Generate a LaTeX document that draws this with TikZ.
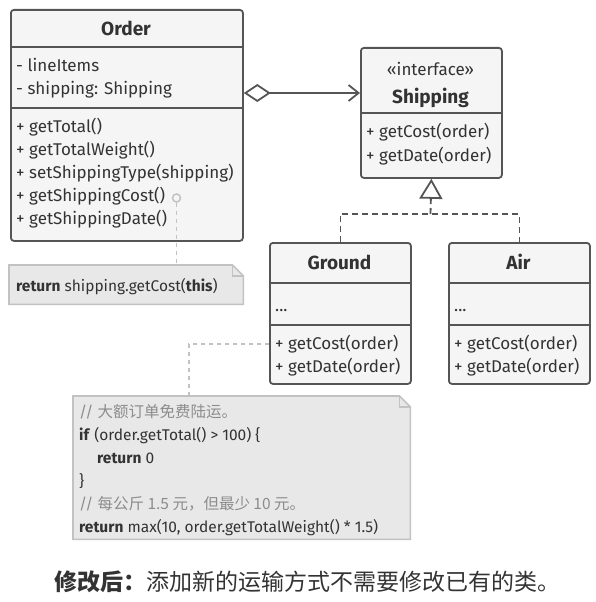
\documentclass[tikz,border=0pt]{standalone}
\usepackage{fontspec}
\setmainfont{Fira Sans}
\newfontfamily\cjk{Noto Sans CJK SC}
\usepackage{tikz}
\usetikzlibrary{arrows.meta}
\definecolor{linec}{HTML}{555555}
\definecolor{boxbg}{HTML}{F5F5F5}
\definecolor{textc}{HTML}{333333}
\definecolor{notebg}{HTML}{E8E8E8}
\definecolor{noteline}{HTML}{C2C2C2}
\definecolor{commentc}{HTML}{8C8C8C}

\begin{document}
\begin{tikzpicture}[x=1pt, y=-1pt]
  \tikzset{
    cls/.style={draw=linec, fill=boxbg, line width=1.8pt, rounded corners=3pt,
      anchor=north west, inner sep=0pt},
    sep/.style={draw=linec, line width=1.8pt},
    txt/.style={anchor=west, inner sep=0pt, text=textc, text height=11pt, text depth=0pt,
      font=\fontsize{17}{20}\selectfont},
    ttl/.style={inner sep=0pt, text=textc, text height=13pt, text depth=0pt,
      font=\fontsize{19}{22}\selectfont\bfseries},
    notebody/.style={draw=noteline, fill=notebg, line width=1.6pt},
    notebox/.style={anchor=north west, inner sep=0pt},
    ntxt/.style={anchor=west, inner sep=0pt, text=textc, text height=10pt, text depth=0pt,
      font=\fontsize{15.5}{18}\selectfont},
    ncom/.style={ntxt, text=commentc},
    notedash/.style={draw=noteline, line width=1.5pt, dash pattern=on 4pt off 4pt},
    impl/.style={draw=linec, line width=1.8pt, dash pattern=on 6pt off 4pt}
  }
  \useasboundingbox (0,0) rectangle (596,602);

  \node[cls, minimum width=232pt, minimum height=231pt] (order) at (10,9) {};
  \draw[sep] (10,47) -- (242,47);
  \draw[sep] (10,108) -- (242,108);
  \node[ttl] (orderTitle) at (126,29) {Order};
  \node[txt] (oAttr1) at (16,66) {- lineItems};
  \node[txt] (oAttr2) at (16,89) {- shipping: Shipping};
  \node[txt] (oM1) at (16,127) {+ getTotal()};
  \node[txt] (oM2) at (16,150) {+ getTotalWeight()};
  \node[txt] (oM3) at (16,173) {+ setShippingType(shipping)};
  \node[txt] (oM4) at (16,196) {+ getShippingCost()};
  \node[txt] (oM5) at (16,219) {+ getShippingDate()};

  \node[cls, minimum width=141pt, minimum height=130pt] (ship) at (360,47) {};
  \draw[sep] (360,113) -- (501,113);
  \node[txt, anchor=center] (shipStereo) at (430.5,70) {«interface»};
  \node[ttl] (shipTitle) at (430.5,97) {Shipping};
  \node[txt] (sM1) at (366,132) {+ getCost(order)};
  \node[txt] (sM2) at (366,156) {+ getDate(order)};

  \node[cls, minimum width=141pt, minimum height=141pt] (ground) at (269,242) {};
  \draw[sep] (269,283) -- (410,283);
  \draw[sep] (269,325) -- (410,325);
  \node[ttl] (groundTitle) at (339.5,263) {Ground};
  \node[txt] (gDots) at (275,306) {...};
  \node[txt] (gM1) at (275,344) {+ getCost(order)};
  \node[txt] (gM2) at (275,367) {+ getDate(order)};

  \node[cls, minimum width=141pt, minimum height=141pt] (air) at (448,242) {};
  \draw[sep] (448,283) -- (589,283);
  \draw[sep] (448,325) -- (589,325);
  \node[ttl] (airTitle) at (518.5,263) {Air};
  \node[txt] (aDots) at (454,306) {...};
  \node[txt] (aM1) at (454,344) {+ getCost(order)};
  \node[txt] (aM2) at (454,367) {+ getDate(order)};

  \draw[linec, line width=1.8pt, {Diamond[open, length=27pt, width=18pt]}-{Straight Barb[length=10pt, width=16pt]}]
    (order.east |- 0,93) -- (ship.west |- 0,93);

  \coordinate (split) at (430.5,214);
  \draw[impl] (ground.north) |- (split) -| (air.north);
  \draw[impl, -{Triangle[open, length=20pt, width=23pt]}] (split) -- (ship.south);

  \node[notebox, minimum width=234pt, minimum height=39pt] (note1) at (9,265) {};
  \draw[notebody] (note1.north west) -- ([xshift=-11pt]note1.north east) -- ([yshift=-11pt]note1.north east)
    -- (note1.south east) -- (note1.south west) -- cycle;
  \draw[notebody, fill=none] ([xshift=-11pt]note1.north east) |- ([yshift=-11pt]note1.north east);
  \node[ntxt] (note1Text) at (16,286) {\textbf{return} shipping.getCost(\textbf{this})};
  \node[circle, draw=noteline, line width=1.5pt, minimum size=8pt, inner sep=0pt] (pin) at (176.5,198) {};
  \draw[notedash] (pin) -- (pin |- note1.north);

  \node[notebox, minimum width=337pt, minimum height=143pt] (note2) at (73,396) {};
  \draw[notebody] (note2.north west) -- ([xshift=-11pt]note2.north east) -- ([yshift=-11pt]note2.north east)
    -- (note2.south east) -- (note2.south west) -- cycle;
  \draw[notebody, fill=none] ([xshift=-11pt]note2.north east) |- ([yshift=-11pt]note2.north east);
  \node[ncom] (c1) at (79,412) {// {\cjk 大额订单免费陆运。}};
  \node[ntxt] (c2) at (79,435) {\textbf{if} (order.getTotal() > 100) \{};
  \node[ntxt] (c3) at (97,458) {\textbf{return} 0};
  \node[ntxt] (c4) at (79,481) {\}};
  \node[ncom] (c5) at (79,504) {// {\cjk 每公斤 1.5 元，但最少 10 元。}};
  \node[ntxt] (c6) at (79,527) {\textbf{return} max(10, order.getTotalWeight() * 1.5)};
  \coordinate (note2Top) at (189,396);
  \draw[notedash] (ground.west |- gM1) -| (note2Top);

  \node[anchor=west, inner sep=0pt, text=textc, font=\fontsize{23}{26}\selectfont\cjk] (caption) at (54,582)
    {\textbf{修改后：}添加新的运输方式不需要修改已有的类。};
\end{tikzpicture}
\end{document}
